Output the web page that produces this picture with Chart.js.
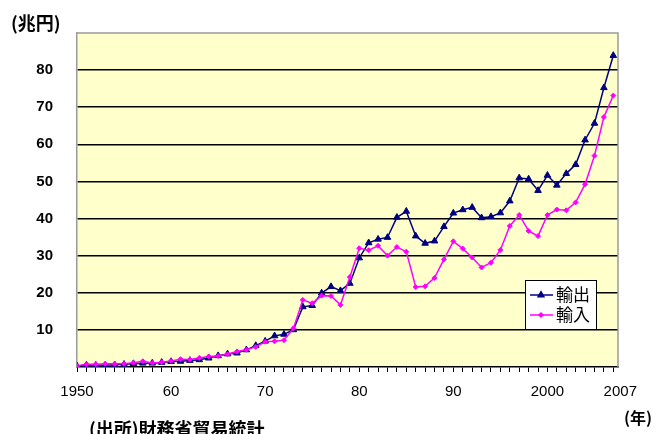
<!DOCTYPE html>
<html>
<head>
<meta charset="utf-8">
<script src="https://cdn.jsdelivr.net/npm/chart.js@4/dist/chart.umd.min.js"></script>
<style>
  html, body { margin: 0; padding: 0; background: #fff; }
  canvas { display: block; }
</style>
</head>
<body>
<canvas id="trade" width="659" height="434"></canvas>
<script>
// Japan's exports and imports, trillion yen, calendar years
const years = [
  1950, 1951, 1952, 1953, 1954, 1955, 1956, 1957, 1958, 1959,
  1960, 1961, 1962, 1963, 1964, 1965, 1966, 1967, 1968, 1969,
  1970, 1971, 1972, 1973, 1974, 1975, 1976, 1977, 1978, 1979,
  1980, 1981, 1982, 1983, 1984, 1985, 1986, 1987, 1988, 1989,
  1990, 1991, 1992, 1993, 1994, 1995, 1996, 1997, 1998, 1999,
  2000, 2001, 2002, 2003, 2004, 2005, 2006, 2007
];
const exportsTrn = [
  0.30, 0.49, 0.46, 0.46, 0.59, 0.72, 0.90, 1.03, 1.04, 1.24,
  1.46, 1.53, 1.77, 1.96, 2.40, 3.04, 3.51, 3.75, 4.62, 5.76,
  6.95, 8.39, 8.81, 10.03, 16.21, 16.55, 19.93, 21.65, 20.56, 22.53,
  29.38, 33.47, 34.43, 34.91, 40.33, 41.96, 35.29, 33.32, 33.94, 37.82,
  41.46, 42.36, 43.01, 40.20, 40.50, 41.53, 44.73, 50.94, 50.65, 47.55,
  51.65, 48.98, 52.11, 54.55, 61.17, 65.66, 75.25, 83.93
];
const importsTrn = [
  0.35, 0.73, 0.73, 0.87, 0.86, 0.89, 1.16, 1.54, 1.09, 1.30,
  1.62, 2.10, 2.03, 2.43, 2.85, 2.94, 3.42, 4.19, 4.68, 5.41,
  6.80, 6.91, 7.23, 10.40, 18.08, 17.17, 19.23, 19.13, 16.73, 24.25,
  31.99, 31.46, 32.66, 30.01, 32.32, 31.08, 21.55, 21.74, 24.01, 28.98,
  33.86, 31.90, 29.53, 26.83, 28.10, 31.55, 37.99, 40.96, 36.65, 35.27,
  40.94, 42.42, 42.23, 44.36, 49.22, 56.95, 67.34, 73.14
];
const seriesNames = ['輸出', '輸入'];

// axis labelling
const labeledYears = [1950, 1960, 1970, 1980, 1990, 2000];
const labeledYearText = ['1950', '60', '70', '80', '90', '2000'];
const lastYearText = '2007';
const yGridValues = [10, 20, 30, 40, 50, 60, 70, 80];
const yBounds = [0, 90];
const unitLabel = '(兆円)';
const yearUnitLabel = '(年)';
const sourceNote = '(出所)財務省貿易統計';

const NAVY = '#000080';
const MAGENTA = '#ff00ff';
const CJK = '"Noto Sans CJK JP", "Noto Sans", sans-serif';
const LATIN = '"Liberation Sans", Arial, sans-serif';

// plot background and the grey frame on top / right
const frame = {
  id: 'frame',
  beforeDraw(chart) {
    const { ctx, chartArea: a } = chart;
    ctx.save();
    ctx.fillStyle = '#ffffcc';
    ctx.fillRect(a.left, a.top, a.right - a.left, a.bottom - a.top);
    ctx.restore();
  },
  beforeDatasetsDraw(chart) {
    const { ctx, chartArea: a } = chart;
    ctx.save();
    ctx.strokeStyle = '#9a9a9a';
    ctx.lineWidth = 1.5;
    ctx.beginPath();
    ctx.moveTo(a.left, a.top);
    ctx.lineTo(a.right, a.top);
    ctx.lineTo(a.right, a.bottom);
    ctx.stroke();
    ctx.restore();
  }
};

// boxed legend in the lower right of the plot, plus the free text labels
const annotations = {
  id: 'annotations',
  afterDraw(chart) {
    const { ctx, chartArea: a, scales } = chart;
    ctx.save();

    // legend
    const bx = a.right - 93, by = a.top + 247, bw = 71, bh = 49;
    ctx.fillStyle = '#fff';
    ctx.fillRect(bx, by, bw, bh);
    ctx.strokeStyle = '#000';
    ctx.lineWidth = 1;
    ctx.strokeRect(bx + 0.5, by + 0.5, bw, bh);
    chart.data.datasets.forEach((ds, i) => {
      const cy = by + 15 + i * 20;
      ctx.strokeStyle = ds.borderColor;
      ctx.fillStyle = ds.backgroundColor;
      ctx.lineWidth = 1.5;
      ctx.beginPath();
      ctx.moveTo(bx + 5, cy);
      ctx.lineTo(bx + 28, cy);
      ctx.stroke();
      Chart.helpers.drawPoint(ctx, {
        pointStyle: ds.pointStyle,
        radius: ds.pointRadius - 0.5,
        borderWidth: 1
      }, bx + 16, cy);
      ctx.fillStyle = '#000';
      ctx.font = '17px ' + CJK;
      ctx.textBaseline = 'middle';
      ctx.textAlign = 'left';
      ctx.fillText(ds.label, bx + 31, cy);
    });

    // unit labels and source
    ctx.fillStyle = '#000';
    ctx.textBaseline = 'middle';
    ctx.textAlign = 'left';
    ctx.font = 'bold 18px ' + CJK;
    ctx.fillText(unitLabel, 11, 23);
    ctx.font = 'bold 16px ' + CJK;
    ctx.fillText(yearUnitLabel, 624, 418);
    ctx.font = 'bold 18px ' + CJK;
    ctx.fillText(sourceNote, 89, 429);

    // final-year label, set slightly right of its tick
    ctx.font = '15px ' + LATIN;
    ctx.textAlign = 'center';
    ctx.fillText(lastYearText, scales.x.getPixelForValue(years[years.length - 1]) + 7, 392);
    ctx.restore();
  }
};

const toPoints = vals => years.map((yr, i) => ({ x: yr, y: vals[i] }));

new Chart(document.getElementById('trade'), {
  type: 'line',
  data: {
    datasets: [
      {
        label: seriesNames[0],
        data: toPoints(exportsTrn),
        borderColor: NAVY,
        backgroundColor: NAVY,
        borderWidth: 1.5,
        pointStyle: 'triangle',
        pointRadius: 3.8,
        pointBorderWidth: 1,
        tension: 0,
        order: 1
      },
      {
        label: seriesNames[1],
        data: toPoints(importsTrn),
        borderColor: MAGENTA,
        backgroundColor: MAGENTA,
        borderWidth: 1.5,
        pointStyle: 'rectRot',
        pointRadius: 2.5,
        pointBorderWidth: 1,
        tension: 0,
        order: 0
      }
    ]
  },
  options: {
    responsive: false,
    animation: false,
    layout: { padding: { left: 0, right: 41, top: 31, bottom: 0 } },
    plugins: {
      legend: { display: false },
      tooltip: { enabled: false }
    },
    scales: {
      x: {
        type: 'linear',
        min: years[0],
        max: years[years.length - 1] + 0.5,
        afterBuildTicks: s => { s.ticks = years.map(v => ({ value: v })); },
        afterFit: s => { s.height = 67; },
        grid: { drawOnChartArea: false, drawTicks: true, tickLength: 5, color: '#000', lineWidth: 1 },
        border: { color: '#000', width: 1.5 },
        ticks: {
          autoSkip: false,
          maxRotation: 0,
          padding: 11,
          color: '#000',
          font: { family: LATIN, size: 15 },
          callback: v => {
            const k = labeledYears.indexOf(v);
            return k >= 0 ? labeledYearText[k] : '';
          }
        }
      },
      y: {
        min: yBounds[0],
        max: yBounds[1],
        afterBuildTicks: s => { s.ticks = [yBounds[0], ...yGridValues, yBounds[1]].map(v => ({ value: v })); },
        afterFit: s => { s.width = 77; },
        grid: {
          drawTicks: false,
          lineWidth: 1.5,
          color: c => (c.tick && yGridValues.includes(c.tick.value)) ? '#000' : 'rgba(0,0,0,0)'
        },
        border: { color: '#9a9a9a', width: 1.5 },
        ticks: {
          padding: 24,
          color: '#000',
          font: { family: LATIN, size: 15, weight: 'bold' },
          callback: v => yGridValues.includes(v) ? String(v) : ''
        }
      }
    }
  },
  plugins: [frame, annotations]
});
</script>
</body>
</html>
